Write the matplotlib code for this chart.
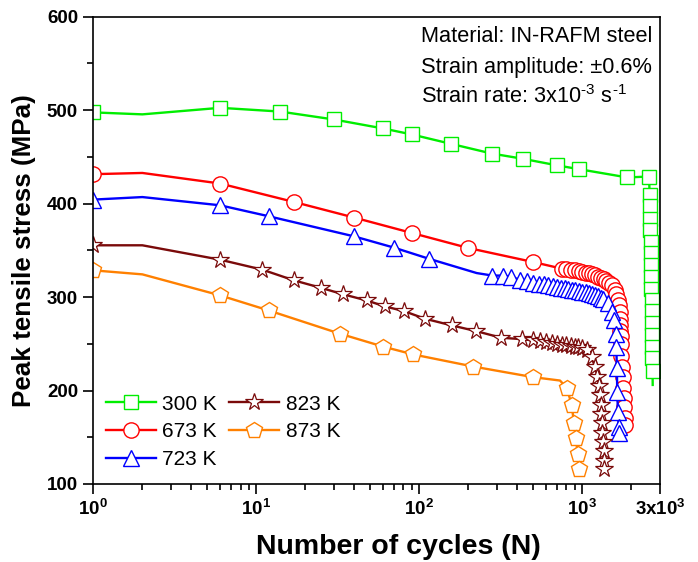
import matplotlib
matplotlib.use("Agg")
import matplotlib.pyplot as plt
from matplotlib.ticker import FixedLocator, FixedFormatter, NullFormatter

# ---- data ----
n_300 = [1, 2, 6, 14, 30, 60, 90, 156, 278, 431, 697, 959, 1890, 2570,
         2590, 2600, 2610, 2620, 2630, 2640, 2645, 2650, 2655, 2660, 2665,
         2670, 2675, 2680, 2690, 2700, 2705]
s_300 = [497.6, 495.5, 502.5, 498.5, 490, 480.4, 474, 464, 453.6, 448, 441, 436.8, 428, 429,
         409, 397, 384, 372, 359, 347, 334, 322, 309, 297, 285,
         272, 259, 247, 235, 221, 206]

n_673 = [1, 2, 6, 17, 40, 90, 200, 500,
         750, 800, 850, 900, 950, 1000, 1050, 1100, 1150, 1200, 1250, 1300, 1350,
         1400, 1450, 1520, 1580, 1620, 1660, 1690, 1700, 1705, 1710, 1715, 1720,
         1725, 1740, 1760, 1775, 1790, 1800, 1810, 1820, 1830]
s_673 = [431.5, 432.8, 421.5, 401.8, 385, 368.6, 352.5, 337.5,
         330.4, 329.8, 329.2, 328.5, 327.8, 327, 326.2, 325.3, 324.3, 323.2, 322, 320.6, 319,
         317.3, 315.5, 313, 308, 303.6, 297, 291, 284, 277, 270, 264, 258,
         250, 237, 225, 214, 203, 192, 182, 171, 163]

n_723 = [1, 2, 6, 11.9, 39.7, 70, 114.6, 225, 281, 325, 367, 414, 456,
         500, 540, 580, 620, 660, 700, 740, 780, 820, 860, 900, 950, 1000,
         1050, 1100, 1150, 1200, 1250, 1300, 1340, 1447, 1530, 1574, 1600,
         1618, 1630, 1640, 1655, 1675, 1680]
s_723 = [404.3, 407, 398.2, 386.5, 365, 352.9, 341, 325.7, 323, 323, 321.4, 318.6, 317.5,
         315.5, 314.5, 313.5, 312.5, 311.5, 311, 310.2, 309.5, 308.8, 308, 307.3, 306.5, 305.8,
         305, 304, 303, 302, 300.8, 299.5, 298.3, 293.6, 284, 275, 260,
         246.4, 224, 198, 177, 161, 155]

n_823 = [1, 2, 6, 10.9, 17, 24.8, 34.2, 47.5, 61.6, 80.5, 108, 158, 223, 318, 424, 500,
         550, 600, 650, 700, 750, 800, 850, 900, 946, 1000, 1066, 1142, 1197,
         1240, 1270, 1290, 1300, 1310, 1320, 1330, 1340, 1350, 1355, 1360]
s_823 = [355.4, 355.4, 340, 329.3, 317.9, 310, 302.9, 296.4, 290, 285, 276.9, 269.7, 263.6, 256.5, 255, 253.6,
         252.5, 251.5, 250.5, 249.8, 249, 248.3, 247.6, 247, 246.4, 245, 243, 235.7, 225,
         215, 205, 195, 185, 175, 165, 155, 145, 135, 125, 116]

n_873 = [1, 2, 6, 11.9, 32.6, 60, 91.9, 214, 500, 730, 802, 861, 889, 914, 937, 959]
s_873 = [328.6, 324.3, 301.8, 285.7, 260.8, 247, 238.6, 225.7, 214.3, 210.7, 203, 185, 165, 149.3, 132, 116]

labels = ["300 K", "673 K", "723 K", "823 K", "873 K"]

# ---- styling ----
FONT = ["Liberation Sans", "DejaVu Sans"]
plt.rcParams["font.family"] = FONT
plt.rcParams["mathtext.fontset"] = "custom"
plt.rcParams["mathtext.rm"] = "Liberation Sans"
plt.rcParams["mathtext.bf"] = "Liberation Sans:bold"

fig = plt.figure(figsize=(6.98, 5.62), dpi=100)
ax = fig.add_axes([0.1337, 0.1388, 0.8119, 0.8315])

def skip(n, omit):
    return [i for i in range(n) if i not in omit]

ax.plot(n_300, s_300, color="#00ee00", lw=1.7, marker="s", ms=9.5, mfc="white", mec="#00ee00",
        mew=1.0, markevery=skip(len(n_300), [1, len(n_300) - 1]), label=labels[0])
ax.plot(n_673, s_673, color="#ff0000", lw=1.7, marker="o", ms=11, mfc="white", mec="#ff0000",
        mew=1.0, markevery=skip(len(n_673), [1]), label=labels[1])
ax.plot(n_723, s_723, color="#0000ff", lw=1.7, marker="^", ms=11, mfc="white", mec="#0000ff",
        mew=1.0, markevery=skip(len(n_723), [1, 7]), label=labels[2])
ax.plot(n_823, s_823, color="#7a0a0a", lw=1.7, marker="*", ms=13, mfc="white", mec="#7a0a0a",
        mew=0.9, markevery=skip(len(n_823), [1]), label=labels[3])
ax.plot(n_873, s_873, color="#ff8000", lw=1.7, marker="p", ms=12, mfc="white", mec="#ff8000",
        mew=1.0, markevery=skip(len(n_873), [1, 9]), label=labels[4])

ax.set_xscale("log")
ax.set_xlim(1, 3000)
ax.set_ylim(100, 600)

ax.xaxis.set_major_locator(FixedLocator([1, 10, 100, 1000, 3000]))
ax.xaxis.set_major_formatter(FixedFormatter([r"$\mathbf{10^{0}}$", r"$\mathbf{10^{1}}$",
                                             r"$\mathbf{10^{2}}$", r"$\mathbf{10^{3}}$",
                                             r"$\mathbf{3x10^{3}}$"]))
minors = [m * d for d in [1, 10, 100] for m in range(2, 10)] + [2000]
ax.xaxis.set_minor_locator(FixedLocator(minors))
ax.xaxis.set_minor_formatter(NullFormatter())

ax.set_yticks([100, 200, 300, 400, 500, 600])
ax.set_yticks([150, 250, 350, 450, 550], minor=True)

ax.tick_params(which="major", direction="out", length=7, width=1.2, labelsize=13.5, pad=4)
ax.tick_params(which="minor", direction="out", length=4, width=1.2)
for lab in ax.get_yticklabels():
    lab.set_fontweight("bold")
for sp in ax.spines.values():
    sp.set_linewidth(1.2)

ax.set_xlabel("Number of cycles (N)", fontsize=20.5, fontweight="bold")
ax.xaxis.set_label_coords(0.539, -0.108)
ax.set_ylabel("Peak tensile stress (MPa)", fontsize=18.7, fontweight="bold", labelpad=8)

ax.text(0.579, 0.957, "Material: IN-RAFM steel", transform=ax.transAxes,
        ha="left", va="center", fontsize=15.7)
ax.text(0.579, 0.892, "Strain amplitude: ±0.6%", transform=ax.transAxes,
        ha="left", va="center", fontsize=15.7)
ax.text(0.579, 0.830, r"Strain rate: 3x10$^{\text{-}3}$ s$^{\text{-}1}$", transform=ax.transAxes,
        ha="left", va="center", fontsize=15.7)

h, l = ax.get_legend_handles_labels()
ax.legend(h, l, ncol=2, loc="lower left", bbox_to_anchor=(0.0, 0.005), frameon=False,
          fontsize=15, handlelength=2.4, handletextpad=0.3, columnspacing=0.6,
          labelspacing=0.42, borderaxespad=0.2)

fig.savefig("out.png", dpi=100)
